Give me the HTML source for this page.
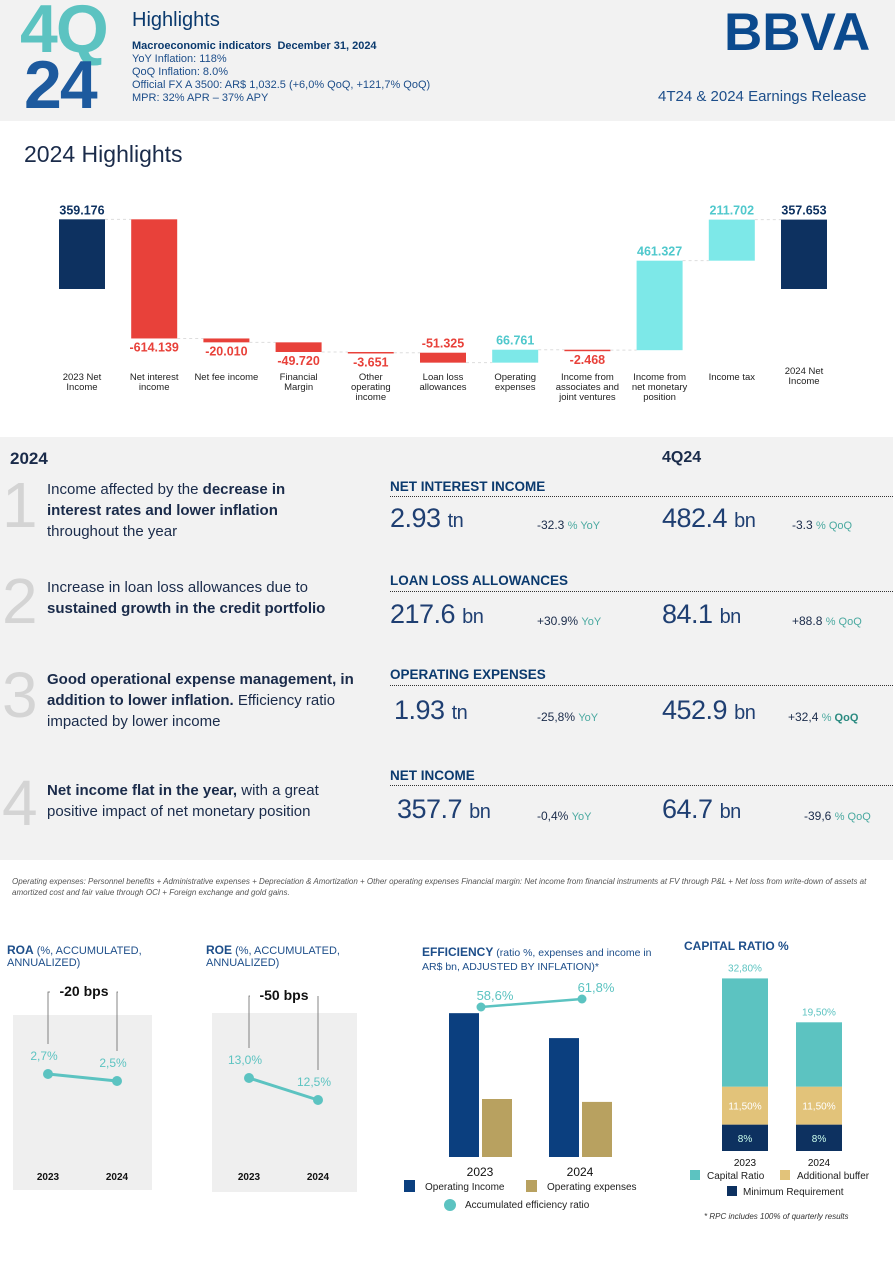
<!DOCTYPE html>
<html><head><meta charset="utf-8">
<style>
body{margin:0;width:895px;height:1265px;background:#fff;font-family:"Liberation Sans",sans-serif;position:relative;overflow:hidden;color:#1a2b4a}
.a{position:absolute;white-space:nowrap}
.big{font-size:27px;color:#1f3f72;letter-spacing:-0.5px}
.chg{font-size:12px;color:#1a2b4a}
.chg span{color:#4aa9a0;font-size:11px}
.hdr{font-size:13.5px;font-weight:bold;color:#0b3a6e}
.dot{position:absolute;border-top:1px dotted #333;height:0}
.num{font-size:64px;color:#d4d4d4;position:absolute;font-weight:300}
.txt{font-size:15px;line-height:21px;color:#1a2b4a;position:absolute}
</style></head><body>
<div style="position:absolute;left:0;top:0;width:895px;height:121px;background:#f2f2f2"></div>
<div class="a" style="left:20px;top:-10px;font-size:68px;font-weight:bold;color:#5cc3c1;letter-spacing:-2px">4Q</div>
<div class="a" style="left:24px;top:46px;font-size:68px;font-weight:bold;color:#1d5a9e;letter-spacing:-2px">24</div>
<div class="a" style="left:132px;top:9px;font-size:20px;color:#0b3a6e">Highlights</div>
<div class="a" style="left:132px;top:40px;font-size:11px;line-height:13px;color:#1d4e8a"><b style="color:#0b3a6e">Macroeconomic indicators&nbsp; December 31, 2024</b><br>YoY Inflation: 118%<br>QoQ Inflation: 8.0%<br>Official FX A 3500: AR$ 1,032.5 (+6,0% QoQ, +121,7% QoQ)<br>MPR: 32% APR – 37% APY</div>
<div class="a" style="left:724px;top:2px;font-size:53px;font-weight:bold;color:#0b4a8e;letter-spacing:0px">BBVA</div>
<div class="a" style="left:658px;top:88px;font-size:15px;color:#1d4e8a">4T24 &amp; 2024 Earnings Release</div>

<div class="a" style="left:24px;top:141px;font-size:23px;color:#1a2b4a">2024 Highlights</div>

<svg id="wf" style="position:absolute;left:0;top:190px" width="895" height="220"></svg>

<div style="position:absolute;left:0;top:437px;width:893px;height:423px;background:#f2f2f2"></div>
<div class="a" style="left:10px;top:449px;font-size:17px;font-weight:bold;color:#1a2b4a">2024</div>
<div class="a" style="left:662px;top:449px;font-size:16px;font-weight:bold;color:#1a2b4a">4Q24</div>

<div class="num" style="left:2px;top:468px">1</div>
<div class="txt" style="left:47px;top:479px">Income affected by the <b>decrease in<br>interest rates and lower inflation</b><br>throughout the year</div>
<div class="num" style="left:2px;top:564px">2</div>
<div class="txt" style="left:47px;top:577px">Increase in loan loss allowances due to<br><b>sustained growth in the credit portfolio</b></div>
<div class="num" style="left:2px;top:658px">3</div>
<div class="txt" style="left:47px;top:669px"><b>Good operational expense management, in<br>addition to lower inflation.</b> Efficiency ratio<br>impacted by lower income</div>
<div class="num" style="left:2px;top:766px">4</div>
<div class="txt" style="left:47px;top:780px"><b>Net income flat in the year,</b> with a great<br>positive impact of net monetary position</div>

<div class="a hdr" style="left:390px;top:479px">NET INTEREST INCOME</div>
<div class="dot" style="left:390px;top:496px;width:503px"></div>
<div class="a big" style="left:390px;top:503px">2.93 <span style="font-size:20px">tn</span></div>
<div class="a chg" style="left:537px;top:518px">-32.3 <span>% YoY</span></div>
<div class="a big" style="left:662px;top:503px">482.4 <span style="font-size:20px">bn</span></div>
<div class="a chg" style="left:792px;top:518px">-3.3 <span>% QoQ</span></div>

<div class="a hdr" style="left:390px;top:573px">LOAN LOSS ALLOWANCES</div>
<div class="dot" style="left:390px;top:591px;width:503px"></div>
<div class="a big" style="left:390px;top:599px">217.6 <span style="font-size:20px">bn</span></div>
<div class="a chg" style="left:537px;top:614px">+30.9% <span>YoY</span></div>
<div class="a big" style="left:662px;top:599px">84.1 <span style="font-size:20px">bn</span></div>
<div class="a chg" style="left:792px;top:614px">+88.8 <span>% QoQ</span></div>

<div class="a hdr" style="left:390px;top:667px">OPERATING EXPENSES</div>
<div class="dot" style="left:390px;top:685px;width:503px"></div>
<div class="a big" style="left:394px;top:695px">1.93 <span style="font-size:20px">tn</span></div>
<div class="a chg" style="left:537px;top:710px">-25,8% <span>YoY</span></div>
<div class="a big" style="left:662px;top:695px">452.9 <span style="font-size:20px">bn</span></div>
<div class="a chg" style="left:788px;top:710px">+32,4 <span>% <b style="color:#2a8a80">QoQ</b></span></div>

<div class="a hdr" style="left:390px;top:768px">NET INCOME</div>
<div class="dot" style="left:390px;top:785px;width:503px"></div>
<div class="a big" style="left:397px;top:794px">357.7 <span style="font-size:20px">bn</span></div>
<div class="a chg" style="left:537px;top:809px">-0,4% <span>YoY</span></div>
<div class="a big" style="left:662px;top:794px">64.7 <span style="font-size:20px">bn</span></div>
<div class="a chg" style="left:804px;top:809px">-39,6 <span>% QoQ</span></div>

<div class="a" style="left:12px;top:876px;font-size:8px;line-height:11px;font-style:italic;color:#555;white-space:normal;width:875px">Operating expenses: Personnel benefits + Administrative expenses + Depreciation &amp; Amortization + Other operating expenses Financial margin: Net income from financial instruments at FV through P&amp;L + Net loss from write-down of assets at amortized cost and fair value through OCI + Foreign exchange and gold gains.</div>

<svg id="bot" style="position:absolute;left:0;top:930px" width="895" height="300"></svg>

<script>
// ---- Waterfall data ----
const wfCategories=["2023 Net|Income","Net interest|income","Net fee income","Financial|Margin","Other|operating|income","Loan loss|allowances","Operating|expenses","Income from|associates and|joint ventures","Income from|net monetary|position","Income tax","2024 Net|Income"];
const wfValues=[359.176,-614.139,-20.010,-49.720,-3.651,-51.325,66.761,-2.468,461.327,211.702,357.653];
const wfLabels=["359.176","-614.139","-20.010","-49.720","-3.651","-51.325","66.761","-2.468","461.327","211.702","357.653"];
const wfTotals=[true,false,false,false,false,false,false,false,false,false,true];

const NS="http://www.w3.org/2000/svg";
function mk(svg,tag,at){const e=document.createElementNS(NS,tag);for(const k in at)e.setAttribute(k,at[k]);svg.appendChild(e);return e;}
(function(){
 const svg=document.getElementById('wf');
 const zeroY=99, k=0.194;
 const y=v=>zeroY-v*k;
 const x0=59, step=72.2, bw=46;
 let cum=0, prevEnd=null;
 wfValues.forEach((v,i)=>{
  let a,b,col;
  if(wfTotals[i]){a=0;b=v;cum=v;col="#0d3160";}
  else{a=cum;b=cum+v;cum=b;col=v<0?"#e8413a":"#7de8e8";}
  const x=x0+i*step, top=Math.min(y(a),y(b)), h=Math.max(Math.abs(y(a)-y(b)),1.5);
  if(prevEnd!==null){const l=mk(svg,'line',{x1:x-step+bw,x2:x,y1:y(prevEnd),y2:y(prevEnd),stroke:"#ddd","stroke-dasharray":"3,3"});}
  prevEnd=wfTotals[i]?v:b;
  const r=mk(svg,'rect',{x:x,y:top,width:bw,height:h,fill:col});
  
  
  const lc=wfTotals[i]?"#0d3160":(v<0?"#e8413a":"#4fc8cc");
  let ly=(v<0&&!wfTotals[i])?top+h+13:top-5;
  if(i===5) ly=top-5;
  const t=mk(svg,'text',{x:x+bw/2,y:ly,"text-anchor":"middle","font-size":12.5,"font-weight":"bold",fill:lc});
  t.textContent=wfLabels[i];
  
  
  const lines=wfCategories[i].split('|');
  const cy=(i===10)?184:190;
  lines.forEach((s,j)=>{const c=mk(svg,'text',{x:x+bw/2,y:cy+j*10,"text-anchor":"middle","font-size":9.5,fill:"#222"});c.textContent=s;
   
   });
 });
})();

// ---- Bottom charts data ----
const years=["2023","2024"];
const roaValues=[2.7,2.5];
const roaLabels=["2,7%","2,5%"];
const roeValues=[13.0,12.5];
const roeLabels=["13,0%","12,5%"];
const effIncome=[4.96,4.10];
const effExpenses=[2.0,1.9];
const effRatio=[58.6,61.8];
const effLabels=["58,6%","61,8%"];
const capMin=[8,8];
const capBuffer=[11.5,11.5];
const capRatio=[32.8,19.5];
const capLabels=["32,80%","19,50%"];

(function(){
 const svg=document.getElementById('bot');
 function txt(x,y,s,at,name){const t=mk(svg,'text',Object.assign({x:x,y:y},at));t.textContent=s;
  
  return t;}
 const teal="#5cc3c1";
 function linePanel(px,pw,boxTop,boxH,vals,labels,yFn,xs,title,bps,bpsX,bpsY,name){
  const b=mk(svg,'rect',{x:px,y:boxTop,width:pw,height:boxH,fill:"#efefef"});
  
  
  const t=txt(px-6,24,"",{"font-size":11,fill:"#1d4e8a"},name+'-title');
  t.innerHTML='<tspan font-weight="bold" font-size="12">'+title+'</tspan> (%, ACCUMULATED,';
  txt(px-6,36,"ANNUALIZED)",{"font-size":11,fill:"#1d4e8a"},name+'-subtitle');
  const p1=yFn(vals[0]),p2=yFn(vals[1]);
  mk(svg,'path',{d:`M${xs[0]} ${p1-30} V${bpsY} H${bpsX-8} M${bpsX+60} ${bpsY} H${xs[1]} V${p2-30}`,stroke:"#666",fill:"none","stroke-width":0.8});
  txt(bpsX+26,bpsY+4,bps,{"font-size":14,"font-weight":"bold","text-anchor":"middle",fill:"#111"},name+'-bps');
  mk(svg,'line',{x1:xs[0],y1:p1,x2:xs[1],y2:p2,stroke:teal,"stroke-width":3});
  vals.forEach((v,i)=>{const c=mk(svg,'circle',{cx:xs[i],cy:yFn(v),r:5,fill:teal});
   
   
   txt(xs[i]-4,yFn(v)-14,labels[i],{"font-size":12,"text-anchor":"middle",fill:teal},name+'-value');
   txt(xs[i],250,years[i],{"font-size":10,"font-weight":"bold","text-anchor":"middle",fill:"#111"},name+'-year');});
 }
 linePanel(13,139,85,175,roaValues,roaLabels,v=>144-(v-2.7)*35,[48,117],"ROA","-20 bps",58,62,"roa");
 linePanel(212,145,83,179,roeValues,roeLabels,v=>148-(v-13.0)*44,[249,318],"ROE","-50 bps",258,66,"roe");

 const t=txt(422,26,"",{"font-size":10.5,fill:"#1d4e8a"},'efficiency-title');
 t.innerHTML='<tspan font-weight="bold" font-size="12">EFFICIENCY</tspan>  (ratio %, expenses and income in';
 txt(422,40,"AR$ bn, ADJUSTED BY INFLATION)*",{"font-size":10.5,fill:"#1d4e8a"},'efficiency-subtitle');
 const base=227, ks=29, gx=[449,549];
 years.forEach((yr,i)=>{
  const h1=effIncome[i]*ks, h2=effExpenses[i]*ks;
  const r1=mk(svg,'rect',{x:gx[i],y:base-h1,width:30,height:h1,fill:"#0b3f7f"});
  
  
  const r2=mk(svg,'rect',{x:gx[i]+33,y:base-h2,width:30,height:h2,fill:"#b8a160"});
  
  
  txt(gx[i]+31,246,yr,{"font-size":12,"text-anchor":"middle",fill:"#111"},'efficiency-year');
 });
 const ey=v=>77-(v-58.6)*2.5, ex=[481,582];
 mk(svg,'line',{x1:ex[0],y1:ey(effRatio[0]),x2:ex[1],y2:ey(effRatio[1]),stroke:teal,"stroke-width":2.5});
 effRatio.forEach((v,i)=>{const c=mk(svg,'circle',{cx:ex[i],cy:ey(v),r:4.5,fill:teal});
  
  
  txt(ex[i]+14,ey(v)-7,effLabels[i],{"font-size":13,"text-anchor":"middle",fill:teal},'efficiency-value');});
 mk(svg,'rect',{x:404,y:250,width:11,height:12,fill:"#0b3f7f"});
 txt(425,260,"Operating Income",{"font-size":10,fill:"#222"},'legend-operating-income');
 mk(svg,'rect',{x:526,y:250,width:11,height:12,fill:"#b8a160"});
 txt(547,260,"Operating expenses",{"font-size":10,fill:"#222"},'legend-operating-expenses');
 mk(svg,'circle',{cx:450,cy:275,r:6,fill:teal});
 txt(465,278,"Accumulated efficiency ratio",{"font-size":10,fill:"#222"},'legend-efficiency-ratio');

 txt(684,20,"CAPITAL RATIO %",{"font-size":12,"font-weight":"bold",fill:"#1d4e8a"},'capital-title');
 const cb=221, ck=3.3, cx=[722,796];
 years.forEach((yr,i)=>{
  const segs=[[capMin[i],"#0d3160","8%","#cfe"],[capBuffer[i],"#e2c37a","11,50%","#fff"],[capRatio[i],"#5cc3c1",null]];
  let yy=cb;
  segs.forEach((s,j)=>{const h=s[0]*ck;yy-=h;
   const r=mk(svg,'rect',{x:cx[i],y:yy,width:46,height:h,fill:s[1]});
   
   
   if(s[2])txt(cx[i]+23,yy+h/2+4,s[2],{"font-size":10,"text-anchor":"middle",fill:s[3]},'capital-seg-label');});
  txt(cx[i]+23,yy-7,capLabels[i],{"font-size":10,"text-anchor":"middle",fill:teal},'capital-value');
  txt(cx[i]+23,236,yr,{"font-size":10,"text-anchor":"middle",fill:"#111"},'capital-year');
 });
 mk(svg,'rect',{x:690,y:240,width:10,height:10,fill:teal});
 txt(707,249,"Capital Ratio",{"font-size":10,fill:"#222"},'legend-capital-ratio');
 mk(svg,'rect',{x:780,y:240,width:10,height:10,fill:"#e2c37a"});
 txt(797,249,"Additional buffer",{"font-size":10,fill:"#222"},'legend-additional-buffer');
 mk(svg,'rect',{x:727,y:256,width:10,height:10,fill:"#0d3160"});
 txt(743,265,"Minimum Requirement",{"font-size":10,fill:"#222"},'legend-minimum-requirement');
 txt(704,289,"* RPC includes 100% of quarterly results",{"font-size":8,"font-style":"italic",fill:"#333"},'capital-footnote');
})();
</script>
</body></html>
